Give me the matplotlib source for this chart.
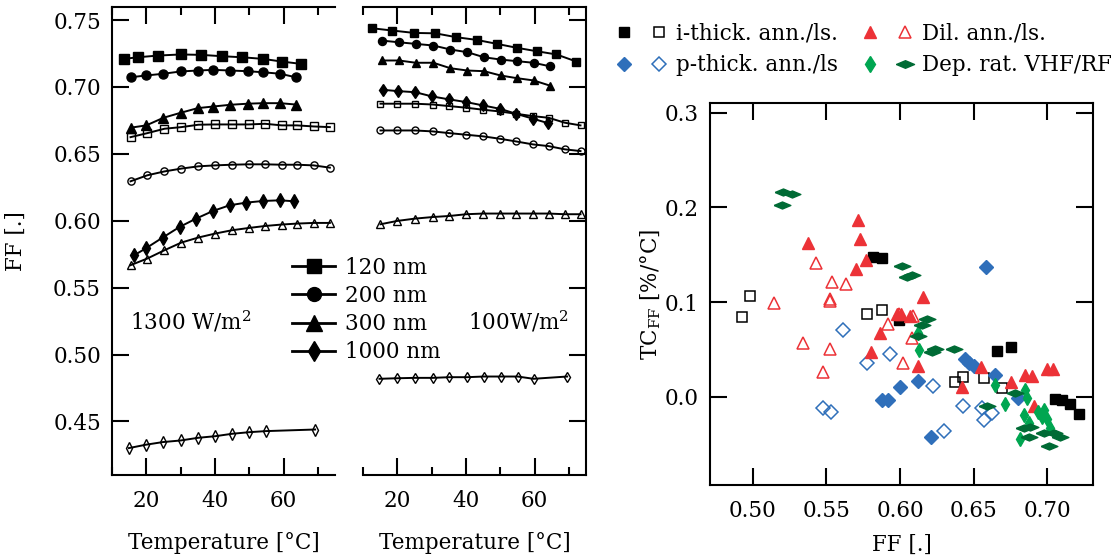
import numpy as np
import matplotlib
matplotlib.use('Agg')
import matplotlib.pyplot as plt
from matplotlib.lines import Line2D
from matplotlib.legend_handler import HandlerTuple

plt.rcParams['font.family'] = 'DejaVu Serif'
plt.rcParams['mathtext.fontset'] = 'dejavuserif'
plt.rcParams['font.size'] = 15.5

# ---------------- data: FF vs temperature, 1300 W/m2 ----------------
T_sq_hi = [13.5, 17.5, 23.5, 30, 36, 42, 48, 54, 59.5, 65]
FF120_hi = [0.7210, 0.7222, 0.7235, 0.7243, 0.7240, 0.7230, 0.7222, 0.7210, 0.7190, 0.7173]
T_fill_hi = [15.5, 20, 25, 30, 35, 39.5, 44.5, 49.5, 54, 59, 63.5]
FF200_hi = [0.7073, 0.7086, 0.7099, 0.7116, 0.7123, 0.7128, 0.7123, 0.7118, 0.7110, 0.7099, 0.7073]
FF300_hi = [0.6696, 0.6713, 0.6770, 0.6807, 0.6842, 0.6854, 0.6867, 0.6875, 0.6879, 0.6879, 0.6869]
T_dia_hi = [16.5, 19.8, 24.8, 29.7, 34.5, 39.4, 44.3, 49.2, 54.0, 58.9, 63.0]
FF1000_hi = [0.5743, 0.5793, 0.5875, 0.5954, 0.6016, 0.6073, 0.6116, 0.6136, 0.6148, 0.6153, 0.6146]
T_open_hi = [15.4, 20.3, 25.3, 30.2, 35.2, 40, 44.9, 49.8, 54.6, 59.5, 63.9, 68.8, 73.5]
FF120o_hi = [0.6625, 0.6655, 0.6688, 0.6700, 0.6718, 0.6720, 0.6720, 0.6720, 0.6725, 0.6713, 0.6713, 0.6705, 0.6700]
FF200o_hi = [0.6295, 0.6340, 0.6369, 0.6390, 0.6407, 0.6414, 0.6419, 0.6422, 0.6422, 0.6419, 0.6419, 0.6414, 0.6397]
FF300o_hi = [0.5668, 0.5718, 0.5780, 0.5837, 0.5875, 0.5904, 0.5929, 0.5946, 0.5961, 0.5972, 0.5979, 0.5984, 0.5984]
T_dia_o_hi = [14.9, 19.8, 24.8, 30, 35.1, 40.1, 45, 50, 54.8, 69.2]
FF1000o_hi = [0.4301, 0.4326, 0.4346, 0.4358, 0.4378, 0.4390, 0.4408, 0.4420, 0.4428, 0.4440]

# ---------------- data: FF vs temperature, 100 W/m2 ----------------
T_sq_lo = [12.6, 18.5, 24.9, 31.1, 37.2, 43.1, 49.1, 54.8, 60.7, 66.4, 72.2]
FF120_lo = [0.7439, 0.7422, 0.7404, 0.7401, 0.7372, 0.7352, 0.7322, 0.7293, 0.7267, 0.7243, 0.7190]
T_fill_lo = [15.4, 20.5, 25.4, 30.5, 35.5, 40.4, 45.3, 50.1, 54.8, 59.7, 64.4]
FF200_lo = [0.7347, 0.7334, 0.7322, 0.7310, 0.7280, 0.7260, 0.7222, 0.7205, 0.7193, 0.7181, 0.7155]
FF300_lo = [0.7198, 0.7198, 0.7181, 0.7181, 0.7140, 0.7123, 0.7118, 0.7086, 0.7066, 0.7049, 0.7011]
T_dia_lo = [15.7, 20.3, 25.2, 30.2, 35.2, 40.1, 45.0, 49.9, 54.6, 59.5, 63.9]
FF1000_lo = [0.6979, 0.6969, 0.6961, 0.6929, 0.6907, 0.6887, 0.6862, 0.6837, 0.6800, 0.6763, 0.6730]
T_open_lo = [15.1, 20, 25.1, 30.3, 35.2, 40.1, 45, 49.9, 54.6, 59.5, 64.1, 68.8, 73.4]
FF120o_lo = [0.6875, 0.6875, 0.6875, 0.6869, 0.6857, 0.6845, 0.6830, 0.6817, 0.6800, 0.6782, 0.6770, 0.6733, 0.6713]
FF200o_lo = [0.6675, 0.6675, 0.6675, 0.6668, 0.6655, 0.6643, 0.6631, 0.6613, 0.6593, 0.6571, 0.6558, 0.6534, 0.6521]
FF300o_lo = [0.5974, 0.5999, 0.6016, 0.6028, 0.6036, 0.6049, 0.6054, 0.6054, 0.6054, 0.6054, 0.6054, 0.6049, 0.6049]
T_dia_o_lo = [14.8, 19.8, 25.1, 30.3, 35.2, 40.3, 45.2, 50.2, 55.1, 59.7, 69.5]
FF1000o_lo = [0.4819, 0.4823, 0.4826, 0.4826, 0.4831, 0.4831, 0.4836, 0.4836, 0.4836, 0.4819, 0.4836]

thick_labels = ['120 nm', '200 nm', '300 nm', '1000 nm']

# ---------------- data: TC_FF vs FF ----------------
i_fill_x = [0.5816, 0.5876, 0.5996, 0.6658, 0.6753, 0.7054, 0.7100, 0.7156, 0.7213]
i_fill_y = [0.148, 0.147, 0.081, 0.048, 0.053, -0.002, -0.003, -0.008, -0.018]
i_open_x = [0.4927, 0.4980, 0.5778, 0.5876, 0.6374, 0.6427, 0.6567, 0.6692]
i_open_y = [0.084, 0.107, 0.088, 0.092, 0.016, 0.021, 0.020, 0.009]
p_fill_x = [0.6585, 0.6440, 0.6470, 0.6500, 0.6646, 0.6800, 0.6125, 0.6000, 0.5876, 0.5920, 0.6210]
p_fill_y = [0.137, 0.040, 0.036, 0.033, 0.023, -0.001, 0.017, 0.010, -0.003, -0.003, -0.042]
p_open_x = [0.5610, 0.5474, 0.5529, 0.5773, 0.5932, 0.6227, 0.6427, 0.6556, 0.6567, 0.6624, 0.6299]
p_open_y = [0.071, -0.012, -0.016, 0.036, 0.045, 0.012, -0.010, -0.012, -0.024, -0.017, -0.036]
dil_fill_x = [0.5717, 0.5728, 0.5376, 0.5767, 0.5700, 0.6159, 0.5864, 0.5800, 0.5980, 0.6010,
              0.6068, 0.6125, 0.6420, 0.6551, 0.6753, 0.6850, 0.6896, 0.6998, 0.7039, 0.6912]
dil_fill_y = [0.187, 0.167, 0.163, 0.145, 0.135, 0.106, 0.067, 0.047, 0.088, 0.088,
              0.085, 0.033, 0.010, 0.032, 0.016, 0.023, 0.022, 0.030, 0.030, -0.010]
dil_open_x = [0.5143, 0.5429, 0.5540, 0.5631, 0.5528, 0.5528, 0.5342, 0.5524, 0.5474, 0.5916,
              0.6082, 0.6018, 0.5996, 0.6090]
dil_open_y = [0.099, 0.141, 0.121, 0.119, 0.103, 0.101, 0.057, 0.051, 0.026, 0.077,
              0.062, 0.036, 0.088, 0.085]
vr_light_x = [0.6132, 0.6125, 0.6646, 0.6710, 0.6850, 0.6862, 0.6839, 0.6940, 0.6964, 0.6998,
              0.6980, 0.6873, 0.6816, 0.7020]
vr_light_y = [0.050, 0.067, 0.013, -0.007, 0.007, -0.001, -0.019, -0.016, -0.021, -0.023,
              -0.014, -0.028, -0.044, -0.033]
vr_dark_x = [0.5206, 0.5270, 0.5202, 0.6011, 0.6045, 0.6080, 0.6182, 0.6148, 0.6125, 0.6238,
             0.6216, 0.6367, 0.6782, 0.6590, 0.6839, 0.6884, 0.6873, 0.7043, 0.7088, 0.7009, 0.6975]
vr_dark_y = [0.216, 0.214, 0.203, 0.138, 0.127, 0.129, 0.082, 0.076, 0.064, 0.051,
             0.047, 0.051, 0.004, -0.010, -0.033, -0.032, -0.042, -0.038, -0.042, -0.052, -0.038]

RED = '#ec3237'
BLUE = '#2f6fba'
LGREEN = '#00a651'
DGREEN = '#006b35'
wide_dia = [(-1, 0), (0, 0.42), (1, 0), (0, -0.42), (-1, 0)]

W, H = 1114, 558
fig = plt.figure(figsize=(W / 100, H / 100), dpi=100)


def box(l, t, r, b):
    return [l / W, 1 - b / H, (r - l) / W, (b - t) / H]


ax1 = fig.add_axes(box(112, 6.7, 335, 475))
ax2 = fig.add_axes(box(363, 6.7, 586, 475))
ax3 = fig.add_axes(box(710, 103.3, 1093, 485))

panels = {
    ax1: [(T_sq_hi, FF120_hi, 's', 6.5, True), (T_fill_hi, FF200_hi, 'o', 6.5, True),
          (T_fill_hi, FF300_hi, '^', 7, True), (T_dia_hi, FF1000_hi, 'd', 7, True),
          (T_open_hi, FF120o_hi, 's', 5.2, False), (T_open_hi, FF200o_hi, 'o', 5.2, False),
          (T_open_hi, FF300o_hi, '^', 5.8, False), (T_dia_o_hi, FF1000o_hi, 'd', 5.8, False)],
    ax2: [(T_sq_lo, FF120_lo, 's', 5.8, True), (T_fill_lo, FF200_lo, 'o', 5.8, True),
          (T_fill_lo, FF300_lo, '^', 6.3, True), (T_dia_lo, FF1000_lo, 'd', 6.3, True),
          (T_open_lo, FF120o_lo, 's', 5, False), (T_open_lo, FF200o_lo, 'o', 5, False),
          (T_open_lo, FF300o_lo, '^', 5.5, False), (T_dia_o_lo, FF1000o_lo, 'd', 5.5, False)],
}
for ax, series in panels.items():
    for t, ff, m, ms, filled in series:
        ax.plot(t, ff, '-', color='k', lw=1.4, marker=m, ms=ms,
                mfc='k' if filled else 'none', mec='k', mew=1.0)
    ax.set_xlim(10, 75)
    ax.set_ylim(0.41, 0.76)
    ax.set_xticks([20, 40, 60])
    ax.set_xticks([10, 30, 50, 70], minor=True)
    ax.set_yticks(np.arange(0.45, 0.751, 0.05))
    ax.tick_params(which='both', direction='in', width=1.5, top=True)
    ax.tick_params(which='major', length=12)
    ax.tick_params(which='minor', length=6)
    ax.tick_params(axis='x', pad=11)
    ax.set_xlabel('Temperature [°C]', labelpad=14)
    for s in ax.spines.values():
        s.set_linewidth(1.5)

ax1.spines['right'].set_visible(False)
ax1.tick_params(axis='y', right=False, pad=8)
ax1.yaxis.set_major_formatter(plt.FormatStrFormatter('%.2f'))
ax1.set_ylabel('FF [.]', labelpad=19)
ax2.spines['left'].set_visible(False)
ax2.tick_params(axis='y', left=False, right=True, labelleft=False)

ax1.text(0.081, 0.327, '1300 W/m$^2$', transform=ax1.transAxes, va='center')
ax2.text(0.471, 0.327, '100W/m$^2$', transform=ax2.transAxes, va='center')

leg_handles = [Line2D([], [], color='k', lw=2, marker=m, ms=ms)
               for m, ms in [('s', 10), ('o', 10), ('^', 11), ('d', 10)]]
fig.legend(leg_handles, thick_labels, loc='upper left', bbox_to_anchor=(292 / W, 1 - 257 / H),
           frameon=False, handlelength=2.0, handletextpad=0.46, labelspacing=0.28,
           borderpad=0, borderaxespad=0)

# ---------------- scatter panel ----------------
ax3.plot(i_fill_x, i_fill_y, 's', color='k', ms=7.2, ls='none')
ax3.plot(i_open_x, i_open_y, 's', mfc='none', mec='k', ms=6.8, mew=1.1, ls='none')
ax3.plot(p_fill_x, p_fill_y, 'D', color=BLUE, ms=7.5, ls='none')
ax3.plot(p_open_x, p_open_y, 'D', mfc='none', mec=BLUE, ms=7, mew=1.1, ls='none')
ax3.plot(dil_fill_x, dil_fill_y, '^', color=RED, ms=8.5, ls='none')
ax3.plot(dil_open_x, dil_open_y, '^', mfc='none', mec=RED, ms=8, mew=1.1, ls='none')
ax3.plot(vr_light_x, vr_light_y, 'd', color=LGREEN, ms=7.6, ls='none')
ax3.plot(vr_dark_x, vr_dark_y, marker=wide_dia, color=DGREEN, ms=12, ls='none')

ax3.set_xlim(0.471, 0.731)
ax3.set_ylim(-0.093, 0.31)
ax3.set_xticks([0.50, 0.55, 0.60, 0.65, 0.70])
ax3.set_yticks([0.0, 0.1, 0.2, 0.3])
ax3.xaxis.set_major_formatter(plt.FormatStrFormatter('%.2f'))
ax3.yaxis.set_major_formatter(plt.FormatStrFormatter('%.1f'))
ax3.tick_params(direction='in', length=12, width=1.5, top=True, right=True)
ax3.tick_params(axis='x', pad=11)
ax3.tick_params(axis='y', pad=8)
for s in ax3.spines.values():
    s.set_linewidth(1.5)
ax3.set_xlabel('FF [.]', labelpad=8)
ax3.set_ylabel('TC$_\\mathrm{FF}$ [%/°C]', labelpad=1)

sc_handles = [
    (Line2D([], [], ls='none', marker='s', color='k', ms=7),
     Line2D([], [], ls='none', marker='s', mfc='none', mec='k', ms=6.5, mew=1.1)),
    (Line2D([], [], ls='none', marker='D', color=BLUE, ms=7.5),
     Line2D([], [], ls='none', marker='D', mfc='none', mec=BLUE, ms=7, mew=1.1)),
    (Line2D([], [], ls='none', marker='^', color=RED, ms=9),
     Line2D([], [], ls='none', marker='^', mfc='none', mec=RED, ms=8.5, mew=1.1)),
    (Line2D([], [], ls='none', marker='d', color=LGREEN, ms=8.5),
     Line2D([], [], ls='none', marker=wide_dia, color=DGREEN, ms=13)),
]
sc_labels = ['i-thick. ann./ls.', 'p-thick. ann./ls', 'Dil. ann./ls.', 'Dep. rat. VHF/RF']
fig.legend(sc_handles, sc_labels, loc='upper left', bbox_to_anchor=(617 / W, 1 - 23 / H),
           ncol=2, frameon=False, handler_map={tuple: HandlerTuple(ndivide=None, pad=0.93)},
           handlelength=2.32, handletextpad=0.44, labelspacing=0.42, columnspacing=1.1,
           borderpad=0, borderaxespad=0)

fig.savefig('out.png', dpi=100)
